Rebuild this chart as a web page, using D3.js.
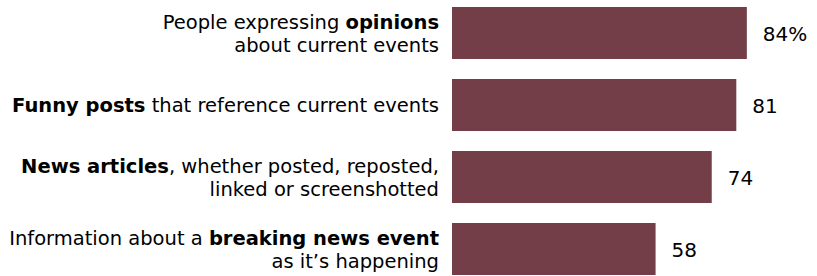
<!DOCTYPE html>
<meta charset="utf-8">
<style>
  html, body { margin: 0; padding: 0; background: #fff; overflow: hidden; }
  text { font-family: "DejaVu Sans", "Liberation Sans", sans-serif; fill: #000; }
  .label { font-size: 19.5px; }
  .value { font-size: 20px; }
  .bar { fill: #733e48; }
</style>
<body>
<svg></svg>
<script src="https://d3js.org/d3.v7.min.js"></script>
<script>

// ** marks the bold part of a label
var categories = [
  ["People expressing **opinions**", "about current events"],
  ["**Funny posts** that reference current events"],
  ["**News articles**, whether posted, reposted,", "linked or screenshotted"],
  ["Information about a **breaking news event**", "as it\u2019s happening"]
];
var values = [84, 81, 74, 58];
var valueSuffix = ["%", "", "", ""];

var width = 817, height = 276;

var svg = d3.select("svg")
    .attr("width", width)
    .attr("height", height);

var x = d3.scaleLinear().domain([0, 100]).range([452, 803]);
var y = d3.scaleBand()
    .domain(d3.range(values.length))
    .range([7, 275])
    .paddingInner(0.278)
    .paddingOuter(0);

svg.append("g")
  .selectAll("rect")
  .data(values)
  .enter()
  .append("rect")
    .attr("class", "bar")
    .attr("x", x(0))
    .attr("y", function(d, i) { return y(i); })
    .attr("width", function(d) { return x(d) - x(0); })
    .attr("height", y.bandwidth());

svg.append("g")
  .selectAll("text")
  .data(values)
  .enter()
  .append("text")
    .attr("class", "value")
    .attr("x", function(d) { return x(d) + 16; })
    .attr("y", function(d, i) { return y(i) + y.bandwidth() / 2; })
    .attr("dy", "0.42em")
    .text(function(d, i) { return d + valueSuffix[i]; });

var lineHeight = 23;

var labels = svg.append("g")
  .selectAll("text")
  .data(categories)
  .enter()
  .append("text")
    .attr("class", "label")
    .attr("text-anchor", "end")
    .attr("x", 439)
    .attr("y", function(d, i) {
      return y(i) + y.bandwidth() / 2 - (d.length - 1) * lineHeight / 2;
    });

labels.each(function(lines) {
  var t = d3.select(this);
  lines.forEach(function(line, j) {
    var parts = line.split("**");
    parts.forEach(function(part, k) {
      if (!part) return;
      var ts = t.append("tspan").text(part);
      if (k % 2 == 1) ts.style("font-weight", "bold");
      if (k == 0 || (k == 1 && !parts[0])) {
        ts.attr("x", 439).attr("dy", j == 0 ? "0.36em" : lineHeight);
      }
    });
  });
});

</script>
</body>
</html>
